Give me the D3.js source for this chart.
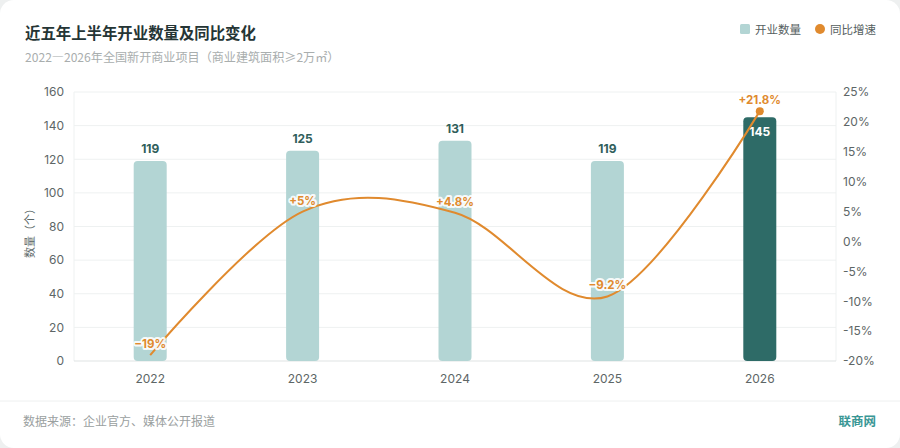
<!DOCTYPE html>
<html lang="zh">
<head>
<meta charset="UTF-8">
<title>近五年上半年开业数量及同比变化</title>
<script src="https://d3js.org/d3.v7.min.js"></script>
<style>
  body {
    margin: 0;
    padding: 0;
    background: #eef0f0;
    font-family: "Noto Sans CJK SC", "Noto Sans", sans-serif;
  }
  #chart { width: 900px; height: 448px; }
</style>
</head>
<body>
<div id="chart"></div>
<script>
const years = ["2022", "2023", "2024", "2025", "2026"];
const openings = [119, 125, 131, 119, 145];
const growth = [-19, 5, 4.8, -9.2, 21.8];
const growthLabels = ["−19%", "+5%", "+4.8%", "−9.2%", "+21.8%"];
const countTicks = [0, 20, 40, 60, 80, 100, 120, 140, 160];
const pctTicks = [-20, -15, -10, -5, 0, 5, 10, 15, 20, 25];

const W = 900, H = 448;
const m = { left: 74, right: 836, top: 92, bottom: 361 };

const svg = d3.select("#chart").append("svg")
  .attr("width", W).attr("height", H);

// card
svg.append("rect")
  .attr("x", 0).attr("y", 0).attr("width", W).attr("height", H)
  .attr("rx", 14).attr("fill", "#fff");

const x = d3.scaleBand().domain(years).range([m.left, m.right]);
const yL = d3.scaleLinear().domain([0, 160]).range([m.bottom, m.top]);
const yR = d3.scaleLinear().domain([-20, 25]).range([m.bottom, m.top]);

// grid
svg.append("g").selectAll("line")
  .data(countTicks.slice(1))
  .join("line")
  .attr("x1", m.left).attr("x2", m.right)
  .attr("y1", d => yL(d)).attr("y2", d => yL(d))
  .attr("stroke", "#eef1f1").attr("stroke-width", 1);

svg.append("line")
  .attr("x1", m.left).attr("x2", m.left)
  .attr("y1", m.top).attr("y2", m.bottom)
  .attr("stroke", "#eef1f1");
svg.append("line")
  .attr("x1", m.right).attr("x2", m.right)
  .attr("y1", m.top).attr("y2", m.bottom)
  .attr("stroke", "#eef1f1");
svg.append("line")
  .attr("x1", m.left).attr("x2", m.right)
  .attr("y1", m.bottom).attr("y2", m.bottom)
  .attr("stroke", "#dfe3e3");

// left axis
const axL = svg.append("g")
  .attr("transform", `translate(${m.left - 4},0)`)
  .call(d3.axisLeft(yL).tickValues(countTicks).tickSize(0).tickPadding(6));
axL.select(".domain").remove();
axL.selectAll("text")
  .attr("fill", "#5d6666").attr("font-size", 12)
  .attr("font-family", "Inter, 'Noto Sans', sans-serif");

// right axis
const axR = svg.append("g")
  .attr("transform", `translate(${m.right + 3},0)`)
  .call(d3.axisRight(yR).tickValues(pctTicks).tickSize(0).tickPadding(4)
    .tickFormat(d => d + "%"));
axR.select(".domain").remove();
axR.selectAll("text")
  .attr("fill", "#5d6666").attr("font-size", 12)
  .attr("font-family", "Inter, 'Noto Sans', sans-serif");

// x axis
const axX = svg.append("g")
  .attr("transform", `translate(0,${m.bottom})`)
  .call(d3.axisBottom(x).tickSize(0).tickPadding(13));
axX.select(".domain").remove();
axX.selectAll("text")
  .attr("fill", "#5d6666").attr("font-size", 12)
  .attr("font-family", "Inter, 'Noto Sans', sans-serif");

// y axis title
svg.append("text")
  .attr("transform", `translate(34,${(m.top + m.bottom) / 2 + 4}) rotate(-90)`)
  .attr("text-anchor", "middle")
  .attr("fill", "#5d6a6a").attr("font-size", 11)
  .text("数量（个）");

// bars
const bw = 33;
const barColor = (d, i) => i === years.length - 1 ? "#2e6b67" : "#b3d5d4";
svg.append("g").selectAll("path")
  .data(openings)
  .join("path")
  .attr("fill", barColor)
  .attr("d", (d, i) => {
    const x0 = x(years[i]) + x.bandwidth() / 2 - bw / 2;
    const y0 = yL(d), y1 = yL(0), r = 4;
    return `M${x0},${y1 - r} L${x0},${y0 + r} Q${x0},${y0} ${x0 + r},${y0}
      L${x0 + bw - r},${y0} Q${x0 + bw},${y0} ${x0 + bw},${y0 + r}
      L${x0 + bw},${y1 - r} Q${x0 + bw},${y1} ${x0 + bw - r},${y1}
      L${x0 + r},${y1} Q${x0},${y1} ${x0},${y1 - r} Z`;
  });

// bar labels
svg.append("g").selectAll("text")
  .data(openings)
  .join("text")
  .attr("x", (d, i) => x(years[i]) + x.bandwidth() / 2)
  .attr("y", (d, i) => i === years.length - 1 ? yL(d) + 19 : yL(d) - 8)
  .attr("text-anchor", "middle")
  .attr("fill", (d, i) => i === years.length - 1 ? "#fff" : "#2f5e5b")
  .attr("font-size", 12).attr("font-weight", 700)
  .attr("font-family", "Inter, 'Noto Sans', sans-serif")
  .text(d => d);

// growth line
const cx = i => x(years[i]) + x.bandwidth() / 2;
const line = d3.line()
  .x((d, i) => cx(i))
  .y(d => yR(d))
  .curve(d3.curveCardinal.tension(0));
svg.append("path")
  .datum(growth)
  .attr("d", line)
  .attr("fill", "none")
  .attr("stroke", "#e08a2e")
  .attr("stroke-width", 2);

svg.append("circle")
  .attr("cx", cx(growth.length - 1))
  .attr("cy", yR(growth[growth.length - 1]))
  .attr("r", 4)
  .attr("fill", "#e08a2e");

svg.append("g").selectAll("text")
  .data(growth)
  .join("text")
  .attr("x", (d, i) => cx(i))
  .attr("y", d => yR(d) - 7)
  .attr("text-anchor", "middle")
  .attr("fill", "#e08a2e")
  .attr("font-size", 11.5).attr("font-weight", 700)
  .attr("font-family", "Inter, 'Noto Sans', sans-serif")
  .attr("stroke", "#fff").attr("stroke-width", 4)
  .attr("stroke-opacity", 0.9)
  .attr("paint-order", "stroke")
  .attr("stroke-linejoin", "round")
  .text((d, i) => growthLabels[i]);

// title
svg.append("text")
  .attr("x", 25).attr("y", 39)
  .attr("fill", "#253535").attr("font-size", 15.4).attr("font-weight", 700)
  .text("近五年上半年开业数量及同比变化");
svg.append("text")
  .attr("x", 25).attr("y", 62)
  .attr("fill", "#a9aeae").attr("font-size", 12.1)
  .text("2022—2026年全国新开商业项目（商业建筑面积≥2万㎡）");

// legend
const lg = svg.append("g").attr("font-size", 11.5).attr("fill", "#556060");
lg.append("rect").attr("x", 740).attr("y", 24).attr("width", 10).attr("height", 10)
  .attr("rx", 1.5).attr("fill", "#b3d5d4");
lg.append("text").attr("x", 755).attr("y", 33.5).text("开业数量");
lg.append("circle").attr("cx", 820).attr("cy", 29).attr("r", 5).attr("fill", "#e08a2e");
lg.append("text").attr("x", 830).attr("y", 33.5).text("同比增速");

// footer
svg.append("line")
  .attr("x1", 0).attr("x2", W).attr("y1", 401).attr("y2", 401)
  .attr("stroke", "#eef0f0");
svg.append("text")
  .attr("x", 23).attr("y", 426)
  .attr("fill", "#9aa0a0").attr("font-size", 12)
  .text("数据来源：企业官方、媒体公开报道");
svg.append("text")
  .attr("x", 876).attr("y", 426)
  .attr("text-anchor", "end")
  .attr("fill", "#3a9795").attr("font-size", 12.5).attr("font-weight", 700)
  .text("联商网");
</script>
</body>
</html>
